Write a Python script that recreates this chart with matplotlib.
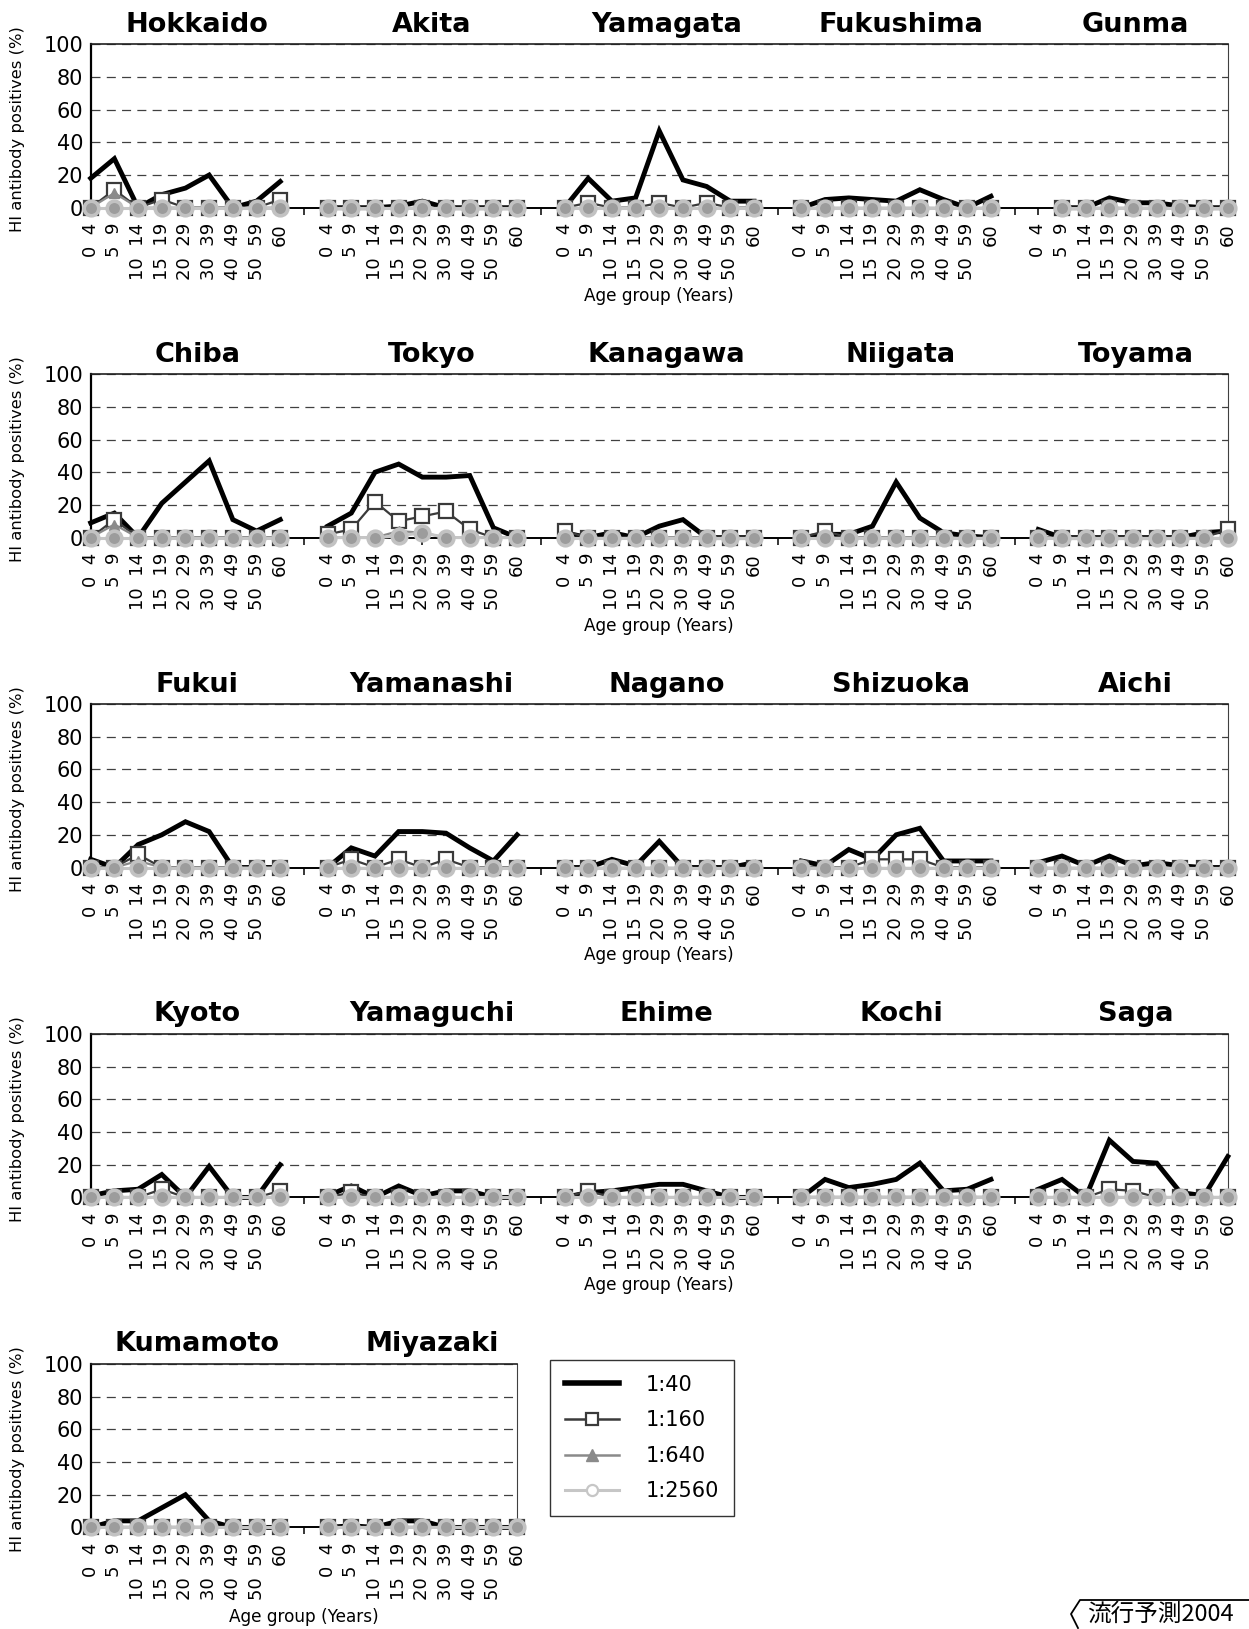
import numpy as np
import matplotlib
matplotlib.use("Agg")
import matplotlib.pyplot as plt
from matplotlib.lines import Line2D

plt.rcParams['font.family'] = ['DejaVu Sans']
plt.rcParams['lines.scale_dashes'] = False

nan = np.nan

age_groups = ["0  4", "5  9", "10  14", "15  19", "20  29", "30  39", "40  49", "50  59", "60"]
series_labels = ["1:40", "1:160", "1:640", "1:2560"]

row_prefectures = [
    ["Hokkaido", "Akita", "Yamagata", "Fukushima", "Gunma"],
    ["Chiba", "Tokyo", "Kanagawa", "Niigata", "Toyama"],
    ["Fukui", "Yamanashi", "Nagano", "Shizuoka", "Aichi"],
    ["Kyoto", "Yamaguchi", "Ehime", "Kochi", "Saga"],
    ["Kumamoto", "Miyazaki"],
]

titer_40 = {
    "Hokkaido":  [18, 30, 0, 8, 12, 20, 0, 4, 16],
    "Akita":     [0, 0, 0, 1, 4, 0, 0, 0, 0],
    "Yamagata":  [0, 18, 4, 6, 47, 17, 13, 4, 4],
    "Fukushima": [0, 5, 6, 5, 4, 11, 5, 0, 7],
    "Gunma":     [nan, 0, 0, 6, 3, 3, 1, 0, 0],
    "Chiba":     [9, 15, 0, 21, 34, 47, 11, 4, 11],
    "Tokyo":     [7, 15, 40, 45, 37, 37, 38, 6, 0],
    "Kanagawa":  [3, 0, 3, 0, 7, 11, 0, 0, 0],
    "Niigata":   [0, 2, 2, 7, 34, 12, 3, 1, 0],
    "Toyama":    [5, 0, 0, 0, 0, 0, 0, 3, 4],
    "Fukui":     [5, 0, 14, 20, 28, 22, 0, 0, 0],
    "Yamanashi": [0, 12, 7, 22, 22, 21, 12, 4, 20],
    "Nagano":    [0, 0, 5, 1, 16, 0, 0, 0, 3],
    "Shizuoka":  [4, 1, 11, 5, 20, 24, 4, 4, 4],
    "Aichi":     [3, 7, 1, 7, 1, 3, 1, 0, 0],
    "Kyoto":     [1, 4, 5, 14, 0, 19, 0, 0, 20],
    "Yamaguchi": [1, 7, 0, 7, 1, 4, 4, 0, 0],
    "Ehime":     [0, 3, 4, 6, 8, 8, 4, 0, 0],
    "Kochi":     [0, 11, 6, 8, 11, 21, 4, 5, 11],
    "Saga":      [5, 11, 0, 35, 22, 21, 3, 1, 25],
    "Kumamoto":  [0, 4, 4, 12, 20, 4, 0, 0, 0],
    "Miyazaki":  [0, 1, 0, 4, 4, 0, 0, 0, 0],
}

titer_160 = {
    "Hokkaido":  [0, 11, 0, 5, 0, 0, 0, 0, 5],
    "Yamagata":  [0, 3, 0, 0, 3, 0, 3, 0, 0],
    "Gunma":     [nan, 0, 0, 0, 0, 0, 0, 0, 0],
    "Chiba":     [0, 11, 0, 0, 0, 0, 0, 0, 0],
    "Tokyo":     [2, 5, 22, 10, 13, 16, 5, 0, 0],
    "Kanagawa":  [4, 0, 0, 0, 0, 0, 0, 0, 0],
    "Niigata":   [0, 4, 0, 0, 0, 0, 0, 0, 0],
    "Toyama":    [0, 0, 0, 0, 0, 0, 0, 0, 5],
    "Fukui":     [0, 0, 8, 0, 0, 0, 0, 0, 0],
    "Yamanashi": [0, 5, 0, 5, 0, 5, 0, 0, 0],
    "Shizuoka":  [0, 0, 0, 5, 5, 5, 0, 0, 0],
    "Kyoto":     [0, 0, 0, 5, 0, 0, 0, 0, 4],
    "Yamaguchi": [0, 3, 0, 0, 0, 0, 0, 0, 0],
    "Ehime":     [0, 4, 0, 0, 0, 0, 0, 0, 0],
    "Saga":      [0, 0, 0, 5, 4, 0, 0, 0, 0],
}

titer_640 = {
    "Hokkaido":  [0, 9, 0, 0, 0, 0, 0, 0, 0],
    "Gunma":     [nan, 0, 0, 0, 0, 0, 0, 0, 0],
    "Chiba":     [0, 8, 0, 0, 0, 0, 0, 0, 0],
    "Tokyo":     [0, 0, 0, 4, 3, 0, 0, 0, 0],
    "Fukui":     [0, 0, 4, 0, 0, 0, 0, 0, 0],
}

titer_2560 = {
    "Gunma":     [nan, 0, 0, 0, 0, 0, 0, 0, 0],
    "Tokyo":     [0, 0, 0, 1, 3, 0, 0, 0, 0],
}

zeros = [0] * len(age_groups)

# ---- layout (pixels) ----
W, H = 1249, 1629
X0 = 90.7
STEP = 23.69
TOPS = [44.3, 374.2, 704.1, 1034.0, 1364.0]
AH = 163.4

fig = plt.figure(figsize=(W / 100, H / 100), dpi=100)

styles = [
    dict(color='black', lw=3.5, marker=None, zorder=3),
    dict(color='#3a3a3a', lw=1.6, marker='s', ms=10, mfc='white', mec='#3a3a3a', mew=1.6, zorder=4),
    dict(color='#8a8a8a', lw=1.6, marker='^', ms=7, mfc='#8a8a8a', mec='#8a8a8a', mew=1.0, zorder=5),
    dict(color='#c6c6c6', lw=2.2, marker='o', ms=10.5, mfc='#9c9c9c', mec='#c2c2c2', mew=2.6, zorder=6),
]
tables = [titer_40, titer_160, titer_640, titer_2560]

for r, prefs in enumerate(row_prefectures):
    n = len(prefs)
    ncat = n * 10 - 1
    width = (ncat - 1) * STEP
    top = TOPS[r]
    ax = fig.add_axes([X0 / W, 1 - (top + AH) / H, width / W, AH / H])
    ax.set_xlim(0, ncat - 1)
    ax.set_ylim(0, 100)
    ax.set_axisbelow(True)
    ax.grid(axis='y', color='#404040', lw=0.9, linestyle=(0, (6.5, 4.5)))
    ax.grid(axis='x', visible=False)

    for k, p in enumerate(prefs):
        xs = k * 10 + np.arange(len(age_groups))
        for tab, st in zip(tables, styles):
            vals = np.array(tab.get(p, zeros), dtype=float)
            ax.plot(xs, vals, clip_on=False, solid_joinstyle='miter', **st)
        # prefecture title
        tx = X0 + (4.5 + k * 9.9) * STEP
        fig.text(tx / W, 1 - (top - 12.6) / H, p, ha='center', va='baseline',
                 fontsize=19.5, fontweight='bold')

    ticks = np.arange(ncat)
    labels = [age_groups[i % 10] if i % 10 < 9 else '' for i in ticks]
    ax.set_xticks(ticks)
    ax.set_xticklabels(labels, rotation=90, fontsize=13, va='top', ha='center')
    ax.tick_params(axis='x', direction='out', length=5, width=1.1, pad=6.0, color='black')
    ax.set_yticks([0, 20, 40, 60, 80, 100])
    ax.set_yticklabels(['0', '20', '40', '60', '80', '100'], fontsize=15)
    ax.tick_params(axis='y', length=0, pad=5.5)

    ax.spines['left'].set_linewidth(1.6)
    ax.spines['left'].set_color('black')
    ax.spines['bottom'].set_linewidth(1.4)
    ax.spines['bottom'].set_color('black')
    ax.spines['top'].set_linewidth(1.2)
    ax.spines['top'].set_color('#202020')
    ax.spines['right'].set_linewidth(0.8)
    ax.spines['right'].set_color('#404040')

    # axis labels
    fig.text(18.0 / W, 1 - (top + AH / 2 + 3) / H, "HI antibody positives (%)",
             rotation=90, ha='center', va='center', fontsize=11.8)
    label_y = top + AH + (90 if r == len(row_prefectures) - 1 else 88)
    fig.text((X0 + width / 2) / W, 1 - label_y / H, "Age group (Years)",
             ha='center', va='center', fontsize=12.2)

# ---- legend ----
handles = [
    Line2D([], [], color='black', lw=4.0),
    Line2D([], [], color='#3a3a3a', lw=1.8, marker='s', ms=9, mfc='white', mec='#3a3a3a', mew=1.6),
    Line2D([], [], color='#8a8a8a', lw=1.8, marker='^', ms=9, mfc='#8a8a8a', mec='#8a8a8a'),
    Line2D([], [], color='#c6c6c6', lw=2.2, marker='o', ms=8, mfc='white', mec='#c6c6c6', mew=1.6),
]
leg = fig.legend(handles, series_labels, loc='upper left',
                 bbox_to_anchor=(550 / W, 1 - 1360 / H), bbox_transform=fig.transFigure,
                 frameon=True, fancybox=False, shadow=False, fontsize=15,
                 handlelength=2.6, handletextpad=1.3, borderpad=0.7,
                 labelspacing=0.75, borderaxespad=0)
leg.get_frame().set_edgecolor('black')
leg.get_frame().set_linewidth(1.0)

# ---- badge ----
bx = [1249 / W, 1080 / W, 1071 / W, 1078 / W]
by = [1 - 1600 / H, 1 - 1600 / H, 1 - 1614 / H, 1 - 1628 / H]
fig.add_artist(Line2D(bx, by, transform=fig.transFigure, color='black', lw=1.3))
fig.text(1087 / W, 1 - 1603 / H, "流行予測2004", ha='left', va='top', fontsize=17,
         family=['Noto Sans CJK JP', 'DejaVu Sans'])

fig.savefig("out.png", dpi=100)
